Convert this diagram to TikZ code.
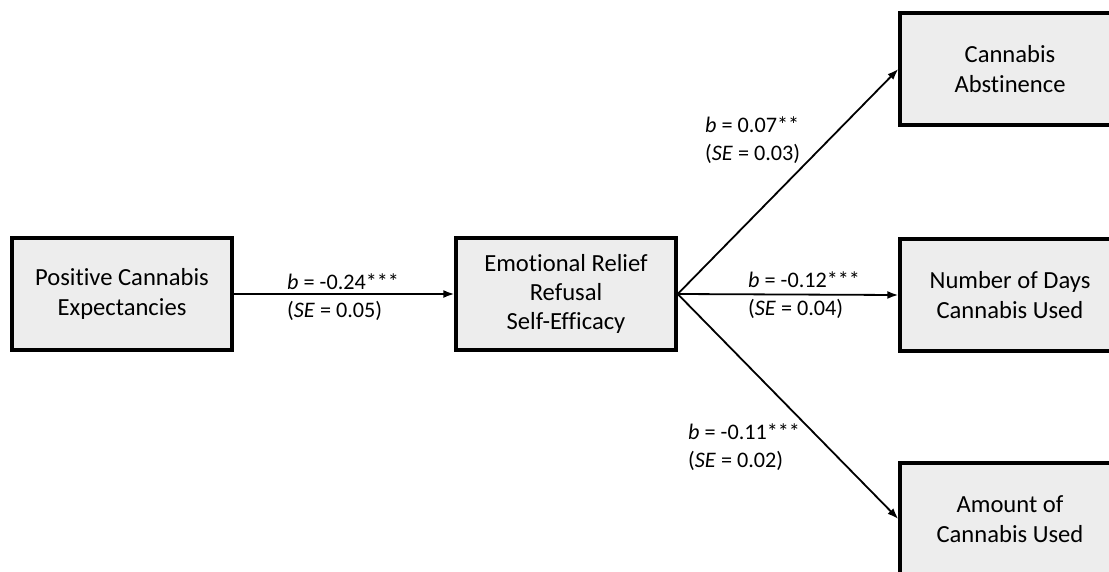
\documentclass[tikz,border=0pt]{standalone}
\usepackage{fontspec}
\setmainfont{Carlito}[Ligatures=NoCommon]
\usetikzlibrary{arrows.meta}
\definecolor{boxgrey}{RGB}{237,237,237}

\begin{document}
\begin{tikzpicture}[x=1pt,y=-1pt]

  % Styles
  \tikzstyle{boite} = [draw, line width=3.4pt, fill=boxgrey, minimum width=220pt, minimum height=112pt, align=center, inner sep=0pt, font=\fontsize{24.6}{29.3}\selectfont]
  \tikzstyle{fleche} = [-{Latex[length=11pt,width=8pt]}, line width=1.8pt]
  \tikzstyle{coef} = [anchor=west, align=left, inner sep=0pt, font=\fontsize{22.2}{28}\selectfont]

  % Cadre
  \useasboundingbox (0,0) rectangle (1109,571);

  % Boites
  \node[boite] (pce) at (122,294) {Positive Cannabis\\Expectancies};
  \node[boite] (errse) at (566,294) {Emotional Relief\\Refusal\\Self-Efficacy};
  \node[boite] (abst) at (1010,69) {Cannabis\\Abstinence};
  \node[boite] (jours) at (1010,295) {Number of Days\\Cannabis Used};
  \node[boite] (quant) at (1010,519) {Amount of\\Cannabis Used};

  % Fleches
  \draw[fleche] (pce.east) -- (errse.west);
  \draw[fleche] (errse.east) -- (abst.west);
  \draw[fleche] (errse.east) -- (jours.west);
  \draw[fleche] (errse.east) -- (quant.west);

  % Coefficients
  \node[coef] (coefa) at (287,297) {\textit{b} = -0.24***\\(\textit{SE} = 0.05)};
  \node[coef] (coefb) at (705,140) {\textit{b} = 0.07**\\(\textit{SE} = 0.03)};
  \node[coef] (coefc) at (748,295) {\textit{b} = -0.12***\\(\textit{SE} = 0.04)};
  \node[coef] (coefd) at (688,447) {\textit{b} = -0.11***\\(\textit{SE} = 0.02)};

\end{tikzpicture}
\end{document}
